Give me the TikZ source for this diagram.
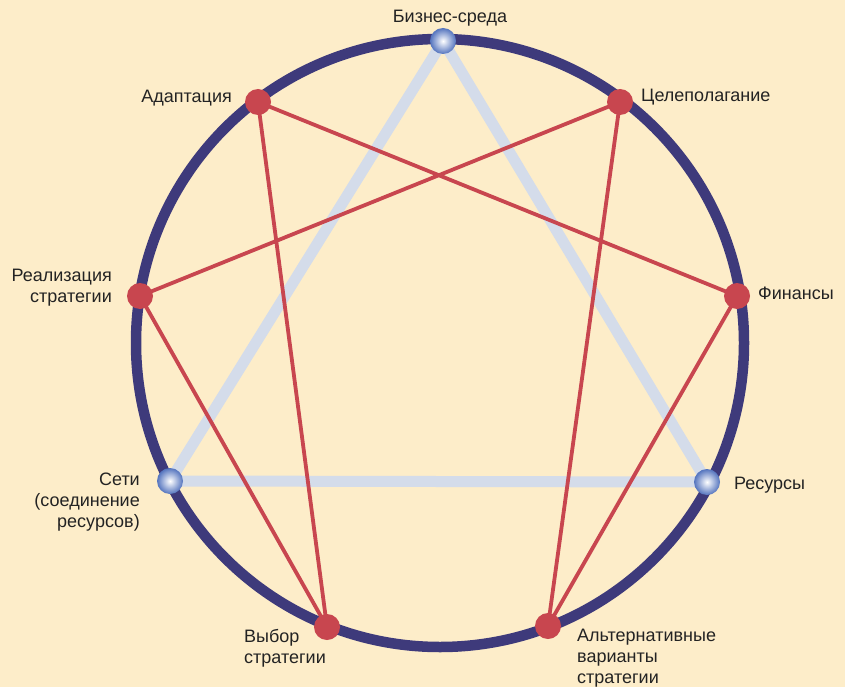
\documentclass[tikz,border=0pt]{standalone}
\usepackage{fontspec}
\setmainfont{Liberation Sans}
\usepackage{xcolor}
\usetikzlibrary{positioning}

\definecolor{bgcream}{RGB}{253,237,201}
\definecolor{ringblue}{RGB}{62,58,123}
\definecolor{enred}{RGB}{200,70,79}
\definecolor{trigrey}{RGB}{212,220,234}
\definecolor{ballblue}{RGB}{84,116,190}
\definecolor{txtgrey}{RGB}{35,35,35}

\begin{document}
\begin{tikzpicture}[x=1pt,y=-1pt,
    ring/.style={draw=ringblue,line width=10.5pt},
    triline/.style={draw=trigrey,line width=11pt,line join=miter},
    redline/.style={draw=enred,line width=3.8pt},
    rednode/.style={circle,fill=enred,minimum size=26pt,inner sep=0pt},
    bluenode/.style={circle,inner sep=0pt,minimum size=26pt,
        inner color=white,outer color=ballblue},
    lbl/.style={text=txtgrey,font=\fontsize{18}{21}\selectfont,inner sep=0pt}]
    \fill[bgcream] (0,0) rectangle (845,687);
    \useasboundingbox (0,0) rectangle (845,687);

    % points on the circle
    \coordinate (p0) at (443,41);
    \coordinate (p1) at (620,102);
    \coordinate (p2) at (737,296);
    \coordinate (p3) at (707,482);
    \coordinate (p4) at (548,626);
    \coordinate (p5) at (327,627);
    \coordinate (p6) at (170,481);
    \coordinate (p7) at (140,296);
    \coordinate (p8) at (258,102);

    \draw[ring] (440,343) circle [radius=304pt];
    \draw[triline] (p0)--(p3)--(p6)--cycle;%triangle
    \draw[redline] (p1)--(p4)--(p2)--(p8)--(p5)--(p7)--cycle;

    \node[bluenode] (n0) at (p0) {};
    \node[bluenode] (n3) at (p3) {};
    \node[bluenode] (n6) at (p6) {};
    \foreach \i in {1,2,4,5,7,8}
        \node[rednode] (n\i) at (p\i) {};

    % labels (base = last line)
    \node[lbl,anchor=base] (l0) at (450,23) {Бизнес-среда};
    \node[lbl,anchor=base west] (l1) at (641,102) {Целеполагание};
    \node[lbl,anchor=base west] (l2) at (758,299) {Финансы};
    \node[lbl,anchor=base west] (l3) at (734,489) {Ресурсы};
    \node[lbl,anchor=base west,align=left] (l4) at (577,683) {Альтернативные\\варианты\\стратегии};
    \node[lbl,anchor=base west,align=left] (l5) at (244,663) {Выбор\\стратегии};
    \node[lbl,anchor=base east,align=right] (l6) at (140,527) {Сети\\(соединение\\ресурсов)};
    \node[lbl,anchor=base east,align=right] (l7) at (112,302) {Реализация\\стратегии};
    \node[lbl,anchor=base east] (l8) at (232,103) {Адаптация};
\end{tikzpicture}
\end{document}
